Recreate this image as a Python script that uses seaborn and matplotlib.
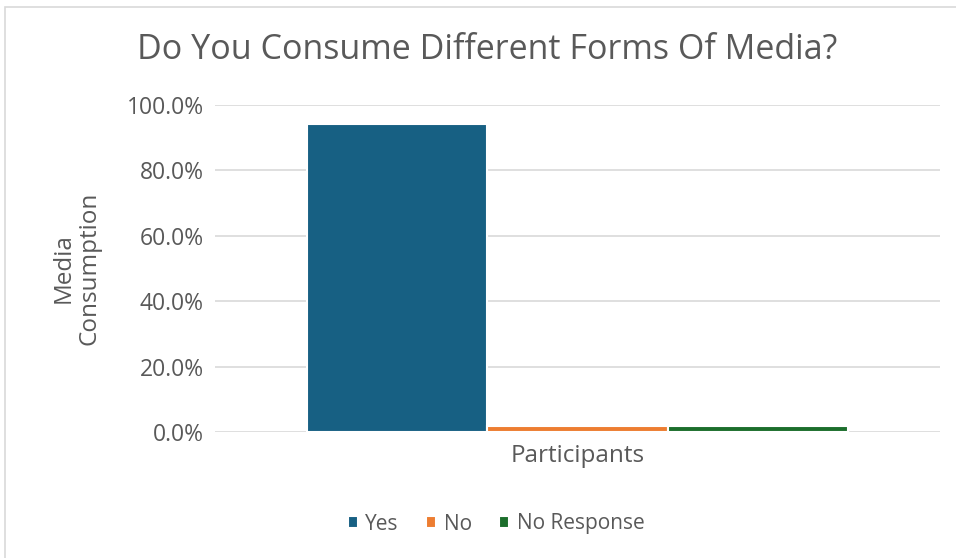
import matplotlib
matplotlib.use("Agg")
import matplotlib.pyplot as plt
import seaborn as sns
import pandas as pd
from matplotlib.patches import Rectangle
from matplotlib.ticker import PercentFormatter, MultipleLocator

categories = ["Participants"]
series = ["Yes", "No", "No Response"]
values = [0.943, 0.019, 0.019]
colors = ["#176083", "#ED7D31", "#1C6E2C"]

df = pd.DataFrame({"cat": categories * len(series), "series": series, "value": values})

sns.set_theme(style="white")
plt.rcParams["font.family"] = ["Open Sans", "DejaVu Sans"]
text_color = "#595959"

fig = plt.figure(figsize=(9.56, 5.58), dpi=100)
ax = fig.add_axes([215/956, 1-432/558, 725/956, 327/558])

sns.barplot(data=df, x="cat", y="value", hue="series", hue_order=series,
            palette=colors, width=0.745, edgecolor="white", linewidth=1.5,
            saturation=1, ax=ax, legend=True)

ax.set_ylim(0, 1.0)
ax.set_xlim(-0.5, 0.5)
ax.yaxis.set_major_locator(MultipleLocator(0.2))
ax.yaxis.set_major_formatter(PercentFormatter(1.0, decimals=1))
ax.grid(axis="y", color="#d9d9d9", linewidth=1.2)
ax.set_axisbelow(True)
for s in ["top", "right", "left", "bottom"]:
    ax.spines[s].set_visible(False)
ax.tick_params(axis="y", length=0, labelsize=16.5, colors=text_color, pad=8)
ax.tick_params(axis="x", length=0)
ax.set_xticklabels([])
ax.set_xlabel("Participants", fontsize=17.5, color=text_color, labelpad=5)
ax.set_ylabel("Media\nConsumption", fontsize=17.5, color=text_color, linespacing=1.1)
ax.yaxis.set_label_coords(-0.157, 0.5)

fig.suptitle("Do You Consume Different Forms Of Media?", x=487/956, y=1-50/558,
             va="center", fontsize=24.5, color=text_color)

leg = ax.legend(loc="center", bbox_to_anchor=(496/956, 1-524/558), bbox_transform=fig.transFigure,
                ncol=3, frameon=False, fontsize=15, handlelength=0.5, handleheight=0.5,
                handletextpad=0.35, columnspacing=1.3)
for t in leg.get_texts():
    t.set_color(text_color)

fig.patches.append(Rectangle((5/956, -0.01), 1.0, 1-7/558+0.01, transform=fig.transFigure,
                             fill=False, edgecolor="#d9d9d9", linewidth=1.2))

fig.savefig("out.png", dpi=100)
